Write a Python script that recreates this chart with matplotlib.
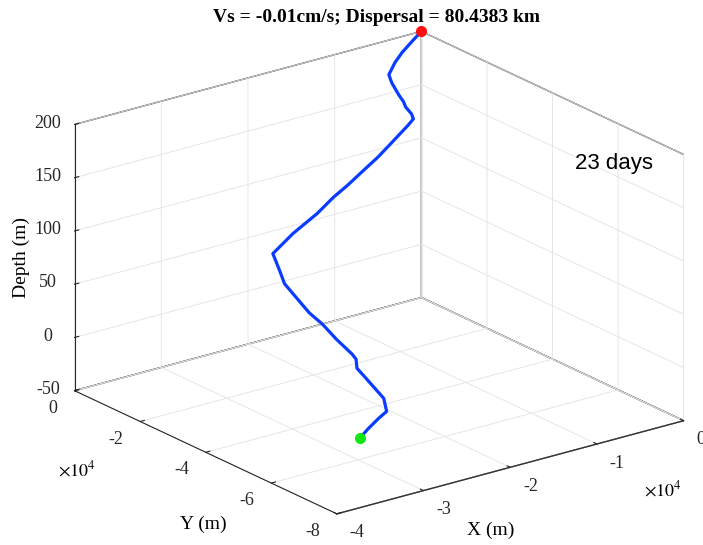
import matplotlib
matplotlib.use('Agg')
import matplotlib.pyplot as plt

plt.rcParams['font.family'] = 'Liberation Serif'
plt.rcParams['mathtext.fontset'] = 'stix'
plt.rcParams['grid.color'] = '#e2e2e2'
plt.rcParams['grid.linewidth'] = 0.6

# particle track (m)
x_m = [0, -1440, -3040, -4380, -5890, -6420, -6940, -7150, -7460, -7560,
       -7870, -8700, -10840, -13270, -15170, -17370, -19160, -21470, -24470, -27360,
       -27660, -28400, -29230, -29420, -29610, -29340, -29420, -29260, -29360, -30150,
       -30230, -30320, -30410, -31420, -32460, -33910, -35180]
y_m = [0, -1040, -2150, -3530, -5660, -7930, -11420, -13480, -14890, -16970,
       -18380, -19050, -20370, -21850, -22570, -23450, -23860, -25040, -25580, -27050,
       -28460, -31880, -35560, -39700, -44140, -47380, -51810, -56240, -57720, -60080,
       -63030, -66270, -68940, -72500, -72780, -73530, -74400]
z_m = [200, 195.5, 189.9, 185.4, 180.4, 177.3, 172.2, 169.0, 167.0, 163.6,
       161.6, 158.7, 151.1, 142.5, 135.5, 127.4, 120.6, 112.2, 100.7, 90.2,
       88.2, 83.4, 78.3, 71.5, 64.1, 57.8, 50.3, 42.2, 39.8, 36.4,
       31.5, 25.9, 21.5, 16.6, 12.7, 7.5, 3.0]

x_ticks = [-40000, -30000, -20000, -10000, 0]
x_labels = ['-4', '-3', '-2', '-1', '0']
y_ticks = [-80000, -60000, -40000, -20000, 0]
y_labels = ['-8', '-6', '-4', '-2', '0']
z_ticks = [-50, 0, 50, 100, 150, 200]
z_labels = ['-50', '0', '50', '100', '150', '200']

title = 'Vs = -0.01cm/s; Dispersal = 80.4383 km'
days = '23 days'

fig = plt.figure(figsize=(7.03, 5.45), dpi=100)
ax = fig.add_axes([0.0288, -0.0137, 1, 1], projection='3d', proj_type='ortho',
                  computed_zorder=False)
ax.view_init(elev=20.8, azim=-127.1)
ax.set_box_aspect((1, 1, 0.655), zoom=1.207)

ax.set_xlim(-40000, 0)
ax.set_ylim(-80000, 0)
ax.set_zlim(-50, 200)
ax.set_xticks(x_ticks, x_labels)
ax.set_yticks(y_ticks, y_labels)
ax.set_zticks(z_ticks, z_labels)
ax.tick_params(labelsize=13, colors='#262626')
ax.tick_params(axis='z', pad=1)
ax.tick_params(axis='x', pad=2)
ax.tick_params(axis='y', pad=2)

# tick label anchoring, closer to MATLAB's placement
for lab in ax.get_xticklabels():
    lab.set_ha('left')
    lab.set_va('center')
for lab in ax.get_yticklabels():
    lab.set_ha('right')
    lab.set_va('center')
for lab in ax.get_zticklabels():
    lab.set_va('center')

for a in (ax.xaxis, ax.yaxis, ax.zaxis):
    a.set_pane_color((1, 1, 1, 1))
    a.pane.set_edgecolor('#404040')
    a.line.set_color('#262626')
    a._axinfo['tick'].update({'inward_factor': 0.0, 'outward_factor': 0.15})
ax.grid(True)

ax.plot(x_m, y_m, z_m, color='#0a3cff', lw=2.3)
ax.plot([x_m[0]], [y_m[0]], [z_m[0]], 'o', color='#ff1010', ms=7)
ax.plot([x_m[-1]], [y_m[-1]], [z_m[-1]], 'o', color='#14e614', ms=7)

fig.text(0.031, 0.527, 'Depth (m)', fontsize=14, rotation=90, ha='center', va='center')
fig.text(0.289, 0.037, 'Y (m)', fontsize=14, ha='center', va='center')
fig.text(0.698, 0.026, 'X (m)', fontsize=14, ha='center', va='center')
fig.text(0.109, 0.138, r'$\times10^{4}$', fontsize=13, ha='center', va='center')
fig.text(0.943, 0.101, r'$\times10^{4}$', fontsize=13, ha='center', va='center')
fig.text(0.535, 0.967, title, fontsize=14, fontweight='bold', ha='center', va='center')
fig.text(0.873, 0.70, days, fontsize=16, family='Liberation Sans', ha='center', va='center')

plt.savefig('out.png', dpi=100)
